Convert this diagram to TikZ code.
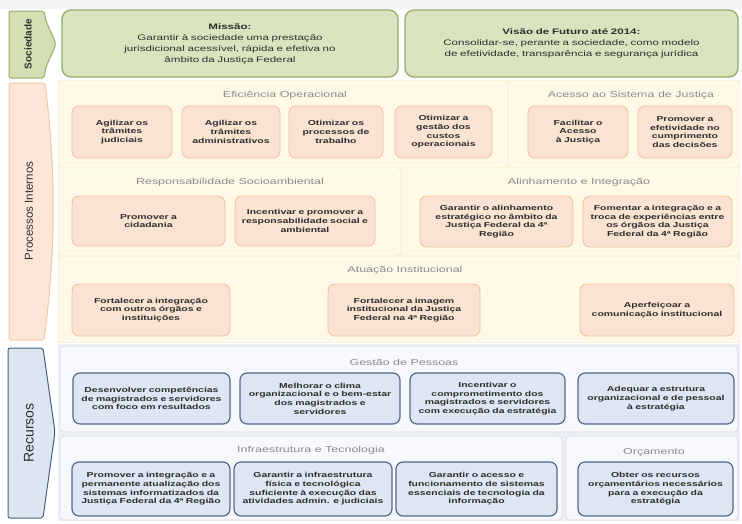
\documentclass[tikz,border=0pt]{standalone}
\usepackage{fontspec}
\setmainfont{Liberation Sans}[FakeStretch=1.45]
\newfontfamily\vfont{Liberation Sans}
\definecolor{bgc}{HTML}{F4F4F4}
\definecolor{grnf}{HTML}{D7E4BD}
\definecolor{grnd}{HTML}{97AC6A}
\definecolor{soctabf}{HTML}{D2E0B2}
\definecolor{peachf}{HTML}{FBE3D3}
\definecolor{peachd}{HTML}{F1C29E}
\definecolor{proctabf}{HTML}{FCE6D8}
\definecolor{proctabd}{HTML}{F3C9A8}
\definecolor{creamz}{HTML}{FBF3DA}
\definecolor{creamp}{HTML}{FEF9E7}
\definecolor{bluef}{HTML}{DDE6F2}
\definecolor{blued}{HTML}{53698A}
\definecolor{bluez}{HTML}{ECF0F6}
\definecolor{bluep}{HTML}{F7F9FC}
\definecolor{bluepd}{HTML}{D6DDE6}
\definecolor{rectabf}{HTML}{DCE6F1}
\definecolor{rectabd}{HTML}{46627F}
\definecolor{ttlc}{HTML}{8A8A8A}
\definecolor{txtc}{HTML}{2E2E2E}
\newcommand\objfont{\fontsize{7.2}{8.7}\selectfont\bfseries}
\newcommand\misfont{\fontsize{8}{11}\selectfont}
\newcommand\ttlfont{\fontsize{8.6}{10}\selectfont}
\tikzset{
  missao/.style={draw=grnd, fill=grnf, line width=1.3pt, rounded corners=9pt, align=center, font=\misfont, text=txtc},
  pobj/.style={draw=peachd, fill=peachf, line width=0.9pt, rounded corners=7pt, align=center, font=\objfont, text=txtc},
  bobj/.style={draw=blued, fill=bluef, line width=1.2pt, rounded corners=7pt, align=center, font=\objfont, text=txtc},
  ppanel/.style={draw=white, fill=creamp, line width=1pt, rounded corners=4pt},
  bpanel/.style={draw=bluepd, fill=bluep, line width=0.8pt, rounded corners=4pt},
  ttl/.style={font=\ttlfont, text=ttlc},
  vlab/.style={rotate=90, text=txtc, inner sep=0pt},
}
\newcommand\mybox[7]{%
  \pgfmathsetmacro\bw{#5-#3}%
  \pgfmathsetmacro\bh{#6-#4}%
  \pgfmathsetmacro\tw{#5-#3-7}%
  \node[#1, minimum width=\bw pt, minimum height=\bh pt, text width=\tw pt, inner sep=0pt] (#2) at ({(#3+#5)/2},{(#4+#6)/2}) {#7};%
}
\begin{document}
\begin{tikzpicture}[x=1pt,y=-1pt]
\useasboundingbox (0,0) rectangle (742,523);
\fill[bgc] (0,0) rectangle (742,523);
\fill[white] (0,9) rectangle (742,523);

% side tabs
\filldraw[draw=grnd, fill=soctabf, line width=1pt, rounded corners=2pt]
  (9,11) -- (44,11) -- (46,21) -- (56,44) -- (46,67) -- (44,78) -- (9,78) -- cycle;
\node[vlab, font=\vfont\bfseries\fontsize{10}{12}\selectfont] (lsoc) at (28,44) {Sociedade};
\filldraw[draw=proctabd, fill=proctabf, line width=1pt, rounded corners=2pt]
  (9,83) -- (45,83) .. controls (56,170) and (56,250) .. (44,340) -- (9,340) -- cycle;
\node[vlab, font=\vfont\fontsize{11.5}{14}\selectfont] (lproc) at (29,211) {Processos Internos};
\filldraw[draw=rectabd, fill=rectabf, line width=1pt, rounded corners=2pt]
  (8,348) -- (43,348) -- (55,432) -- (43,518) -- (8,518) -- cycle;
\node[vlab, font=\vfont\fontsize{14}{16}\selectfont] (lrec) at (29,433) {Recursos};

% sociedade
\mybox{missao}{mis}{62}{10}{398}{77}{\textbf{Missão:}\\Garantir à sociedade uma prestação\\jurisdicional acessível, rápida e efetiva no\\âmbito da Justiça Federal}
\mybox{missao}{vis}{405}{10}{738}{77}{\textbf{Visão de Futuro até 2014:}\\Consolidar-se, perante a sociedade, como modelo\\de efetividade, transparência e segurança jurídica}

% processos internos zone
\fill[creamz] (58,80) rectangle (740,343);
\draw[ppanel] (60,82) rectangle (506,166);
\draw[ppanel] (510,82) rectangle (738,166);
\draw[ppanel] (60,169) rectangle (399,254);
\draw[ppanel] (403,169) rectangle (738,254);
\draw[ppanel] (60,258) rectangle (738,341);
\node[ttl] (tef) at (285,95) {Eficiência Operacional};
\node[ttl] (tac) at (631,95) {Acesso ao Sistema de Justiça};
\node[ttl] (trs) at (230,182) {Responsabilidade Socioambiental};
\node[ttl] (tal) at (579,182) {Alinhamento e Integração};
\node[ttl] (tat) at (405,270) {Atuação Institucional};

\mybox{pobj}{e1}{72}{106}{172}{158}{Agilizar os\\trâmites\\judiciais}
\mybox{pobj}{e2}{182}{106}{280}{158}{Agilizar os\\trâmites\\administrativos}
\mybox{pobj}{e3}{289}{106}{383}{158}{Otimizar os\\processos de\\trabalho}
\mybox{pobj}{e4}{395}{106}{492}{158}{Otimizar a\\gestão dos\\custos\\operacionais}
\mybox{pobj}{a1}{528}{106}{628}{158}{Facilitar o\\Acesso\\à Justiça}
\mybox{pobj}{a2}{638}{106}{732}{158}{Promover a\\efetividade no\\cumprimento\\das decisões}

\mybox{pobj}{r1}{72}{196}{225}{246}{Promover a\\cidadania}
\mybox{pobj}{r2}{235}{196}{375}{246}{Incentivar e promover a\\responsabilidade social e\\ambiental}
\mybox{pobj}{l1}{420}{196}{573}{247}{Garantir o alinhamento\\estratégico no âmbito da\\Justiça Federal da 4ª\\Região}
\mybox{pobj}{l2}{583}{196}{732}{247}{Fomentar a integração e a\\troca de experiências entre\\os órgãos da Justiça\\Federal da 4ª Região}

\mybox{pobj}{t1}{72}{284}{230}{336}{Fortalecer a integração\\com outros órgãos e\\instituições}
\mybox{pobj}{t2}{328}{284}{480}{336}{Fortalecer a imagem\\institucional da Justiça\\Federal na 4ª Região}
\mybox{pobj}{t3}{580}{284}{734}{336}{Aperfeiçoar a\\comunicação institucional}

% recursos zone
\fill[bluez] (58,344) rectangle (740,521);
\draw[bpanel] (60,346) rectangle (738,432);
\draw[bpanel] (60,436) rectangle (562,520);
\draw[bpanel] (566,436) rectangle (738,520);
\node[ttl] (tgp) at (404,362) {Gestão de Pessoas};
\node[ttl] (tit) at (311,450) {Infraestrutura e Tecnologia};
\node[ttl] (tor) at (654,452) {Orçamento};

\mybox{bobj}{g1}{73}{373}{230}{424}{Desenvolver competências\\de magistrados e servidores\\com foco em resultados}
\mybox{bobj}{g2}{240}{373}{400}{424}{Melhorar o clima\\organizacional e o bem-estar\\dos magistrados e\\servidores}
\mybox{bobj}{g3}{410}{373}{565}{424}{Incentivar o\\comprometimento dos\\magistrados e servidores\\com execução da estratégia}
\mybox{bobj}{g4}{578}{373}{734}{424}{Adequar a estrutura\\organizacional e de pessoal\\à estratégia}

\mybox{bobj}{i1}{72}{462}{230}{516}{Promover a integração e a\\permanente atualização dos\\sistemas informatizados da\\Justiça Federal da 4ª Região}
\mybox{bobj}{i2}{234}{462}{392}{516}{Garantir a infraestrutura\\física e tecnológica\\suficiente à execução das\\atividades admin. e judiciais}
\mybox{bobj}{i3}{396}{462}{557}{516}{Garantir o acesso e\\funcionamento de sistemas\\essenciais de tecnologia da\\informação}
\mybox{bobj}{o1}{578}{462}{733}{516}{Obter os recursos\\orçamentários necessários\\para a execução da\\estratégia}
\end{tikzpicture}
\end{document}
